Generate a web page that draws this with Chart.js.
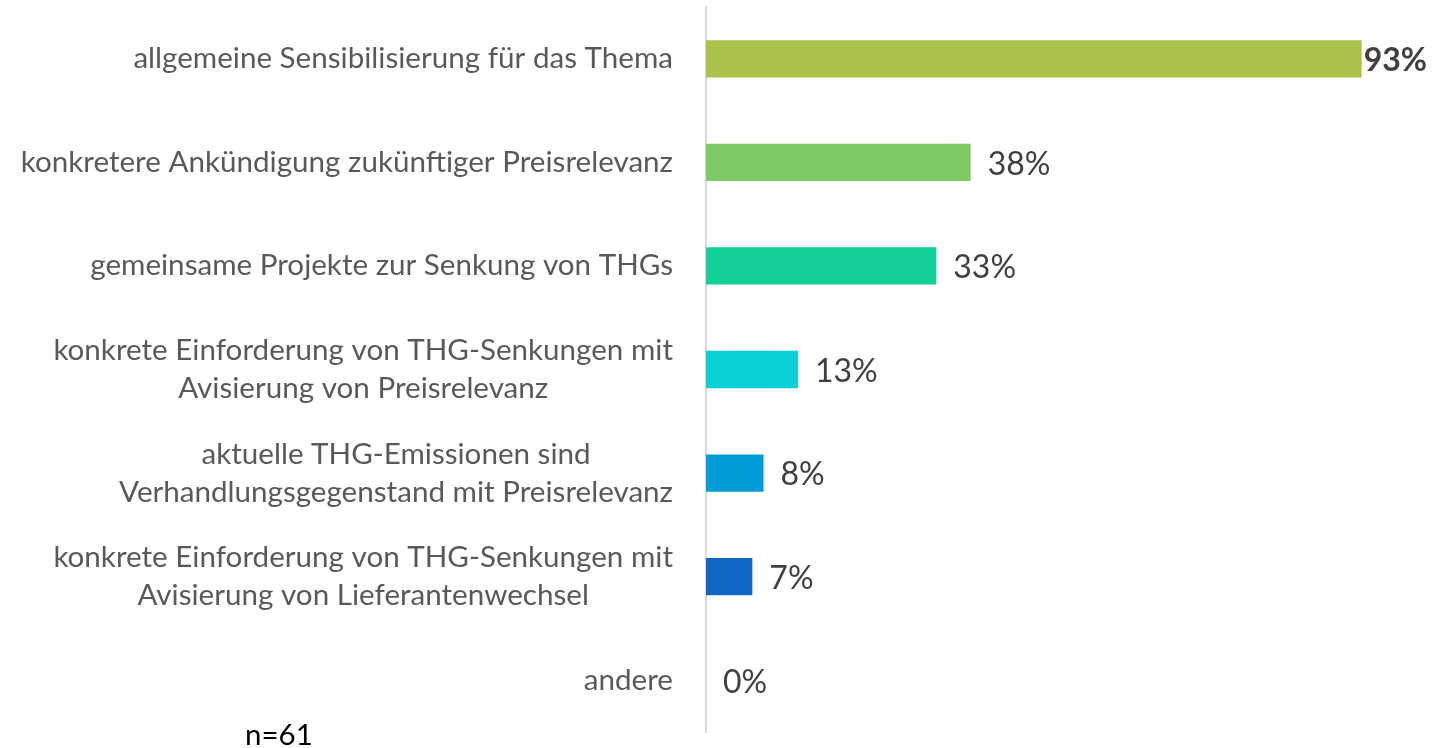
<!DOCTYPE html>
<html>
<head>
<meta charset="utf-8">
<script src="https://cdn.jsdelivr.net/npm/chart.js@4"></script>
<style>
  html, body { margin: 0; background: #fff; }
  #wrap { width: 1437px; height: 748px; position: relative; }
</style>
</head>
<body>
<div id="wrap"><canvas id="chart"></canvas></div>
<script>
const categories = [
  ["allgemeine Sensibilisierung für das Thema"],
  ["konkretere Ankündigung zukünftiger Preisrelevanz"],
  ["gemeinsame Projekte zur Senkung von THGs"],
  ["konkrete Einforderung von THG-Senkungen mit", "Avisierung von Preisrelevanz"],
  ["aktuelle THG-Emissionen sind", "Verhandlungsgegenstand mit Preisrelevanz"],
  ["konkrete Einforderung von THG-Senkungen mit", "Avisierung von Lieferantenwechsel"],
  ["andere"],
];
const shares = [93.4, 37.7, 32.8, 13.1, 8.2, 6.6, 0];
const valueLabels = ["93%", "38%", "33%", "13%", "8%", "7%", "0%"];
const barColors = ["#a8c24b", "#7dc962", "#13cf97", "#0bcfd7", "#009dd8", "#1068c4", "#1068c4"];
const sampleNote = "n=61";

const FONT = "Lato";

// category labels: block right-aligned next to the axis, lines centred within the block
const labelPlugin = {
  id: "labels",
  afterDraw(chart) {
    const { ctx, chartArea, scales } = chart;
    const y = scales.y;
    const meta = chart.getDatasetMeta(0);
    ctx.save();
    ctx.textBaseline = "middle";

    ctx.font = `29.6px ${FONT}`;
    ctx.fillStyle = "#595959";
    ctx.textAlign = "center";
    categories.forEach((lines, i) => {
      const yc = y.getPixelForValue(i);
      const w = Math.max(...lines.map((l) => ctx.measureText(l).width));
      const cx = chartArea.left - 33 - w / 2;
      lines.forEach((l, k) => ctx.fillText(l, cx, yc + (k - (lines.length - 1) / 2) * 38));
    });

    const max = Math.max(...shares);
    ctx.textAlign = "left";
    ctx.fillStyle = "#404040";
    meta.data.forEach((bar, i) => {
      ctx.font = (shares[i] === max ? "bold " : "") + `32px ${FONT}`;
      const tw = ctx.measureText(valueLabels[i]).width;
      const x = Math.min(bar.x + 17, chart.width - tw - 10);
      ctx.fillText(valueLabels[i], x, bar.y + 2);
    });

    ctx.font = `29.5px ${FONT}`;
    ctx.fillStyle = "#000";
    ctx.fillText(sampleNote, 245, 735);
    ctx.restore();
  },
};

new Chart(document.getElementById("chart"), {
  type: "bar",
  data: {
    labels: categories.map((c) => c.join(" ")),
    datasets: [{
      data: shares,
      backgroundColor: barColors,
      borderWidth: 0,
      categoryPercentage: 1,
      barPercentage: 0.36,
    }],
  },
  options: {
    indexAxis: "y",
    responsive: true,
    maintainAspectRatio: false,
    animation: false,
    layout: { padding: { left: 706, right: 29, top: 7, bottom: 16 } },
    plugins: { legend: { display: false }, tooltip: { enabled: false } },
    scales: {
      x: { display: false, min: 0, max: 100 },
      y: {
        ticks: { display: false },
        grid: { display: false, drawTicks: false },
        border: { display: true, color: "#d9d9d9", width: 2 },
      },
    },
  },
  plugins: [labelPlugin],
});
</script>
</body>
</html>
